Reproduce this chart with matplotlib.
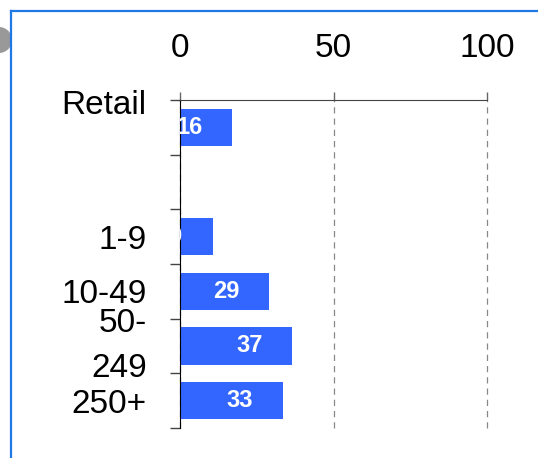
import numpy as np
import matplotlib
matplotlib.use("Agg")
import matplotlib.pyplot as plt
from matplotlib.lines import Line2D
from matplotlib.patches import Ellipse
from matplotlib.ticker import FixedLocator

# data
categories = ["Retail\n", "", "1-9", "10-49", "50-\n249", "250+"]
values = [17, np.nan, 10.6, 29, 36.6, 33.5]
bar_labels = ["16", "", "10", "29", "37", "33"]
x_ticks = [0, 50, 100]

BAR_COLOR = "#3366ff"
FONT = ["Liberation Sans", "DejaVu Sans"]

plt.rcParams["font.family"] = FONT

W, H = 538, 458
fig = plt.figure(figsize=(W / 100, H / 100), dpi=100)
ax = fig.add_axes([180 / W, 1 - 428 / H, (487 - 180) / W, (428 - 100) / H])

y = np.arange(len(categories))
ax.barh(y, values, height=0.68, color=BAR_COLOR, zorder=2)

for yi, v, lab in zip(y, values, bar_labels):
    if not lab or np.isnan(v):
        continue
    ax.annotate(lab, xy=(v, yi), xytext=(-21.5, 0), textcoords="offset points",
                ha="right", va="center", color="white", fontsize=17,
                fontweight="bold", clip_on=True, zorder=3)

ax.set_xlim(0, 100)
ax.set_ylim(len(categories) - 0.5, -0.5)

ax.xaxis.tick_top()
ax.set_xticks(x_ticks)
ax.set_xticklabels([str(t) for t in x_ticks])
ax.tick_params(axis="x", which="major", direction="out", length=5.8, width=1,
               color="#666666", pad=20, labelsize=24)
ax.grid(axis="x", linestyle=(0, (5, 4)), color="#888888", linewidth=0.9, zorder=1)
for gl in ax.get_xgridlines():
    gl.set_clip_on(False)

ax.set_yticks(y)
ax.set_yticklabels(categories, linespacing=1.55)
for lbl in ax.get_yticklabels():
    if "\n" in lbl.get_text():
        lbl.set_verticalalignment("center")
ax.yaxis.set_minor_locator(FixedLocator(np.arange(len(categories) + 1) - 0.5))
ax.tick_params(axis="y", which="major", length=0, pad=24, labelsize=24)
ax.tick_params(axis="y", which="minor", direction="out", length=7.2, width=1,
               color="#444444")

for side in ("right", "bottom"):
    ax.spines[side].set_visible(False)
ax.spines["top"].set_color("#444444")
ax.spines["left"].set_color("black")

# frame around the chart and the small grey marker at the corner
border = "#1e78e6"
fig.add_artist(Line2D([11 / W, 11 / W], [0, 1 - 10.5 / H], transform=fig.transFigure,
                      color=border, linewidth=1.6))
fig.add_artist(Line2D([11 / W, 1], [1 - 10.5 / H, 1 - 10.5 / H], transform=fig.transFigure,
                      color=border, linewidth=1.6))
fig.add_artist(Ellipse((-1 / W, 1 - 40 / H), 26 / W, 26 / H, transform=fig.transFigure,
                       color="#999999", linewidth=0))

fig.savefig("out.png", dpi=100)
